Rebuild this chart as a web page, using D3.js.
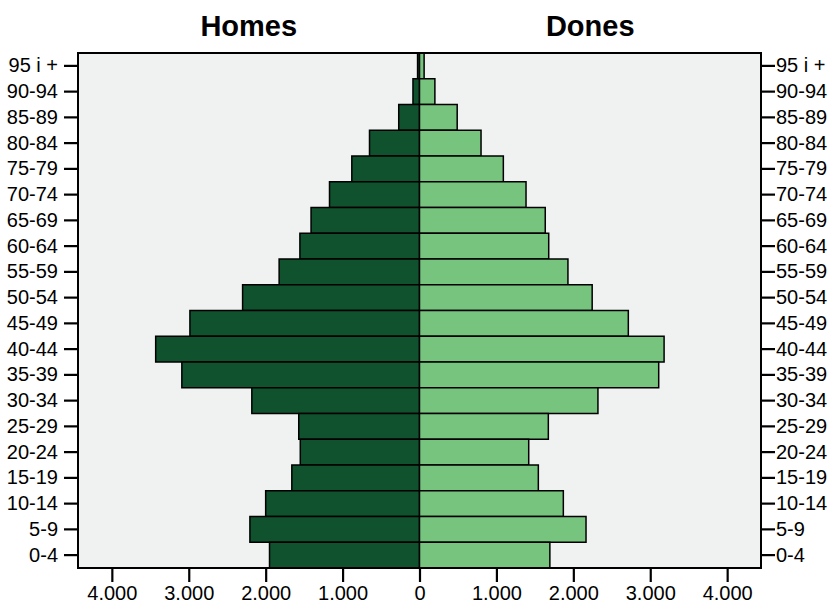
<!DOCTYPE html>
<html>
<head>
<meta charset="utf-8">
<script src="https://cdn.jsdelivr.net/npm/d3@7"></script>
<style>
  body { margin: 0; background: #fff; }
  text { font-family: "Liberation Sans", Arial, sans-serif; }
</style>
</head>
<body>
<div id="chart-area"></div>
<script>
// age groups, top to bottom
const ageGroups = ["95 i +", "90-94", "85-89", "80-84", "75-79", "70-74", "65-69", "60-64",
    "55-59", "50-54", "45-49", "40-44", "35-39", "30-34", "25-29", "20-24",
    "15-19", "10-14", "5-9", "0-4"];
const homes = [25, 85, 270, 650, 880, 1170, 1410, 1555, 1825, 2300, 2985, 3430, 3090, 2180,
    1570, 1550, 1660, 2000, 2205, 1950];
const dones = [60, 200, 490, 800, 1090, 1385, 1635, 1680, 1930, 2245, 2715, 3180, 3110, 2320,
    1675, 1420, 1545, 1870, 2165, 1695];
const xTicks = [-4000, -3000, -2000, -1000, 0, 1000, 2000, 3000, 4000];
const titles = ["Homes", "Dones"];

const margin = { top: 53, right: 67, bottom: 35, left: 78 };
const width = 828 - margin.left - margin.right;
const height = 603 - margin.top - margin.bottom;

const locale = d3.formatLocale({ decimal: ",", thousands: ".", grouping: [3], currency: ["", ""] });
const fmt = locale.format(",");

const svg = d3.select("#chart-area")
    .append("svg")
    .attr("width", 828)
    .attr("height", 603)
    .append("g")
    .attr("transform", `translate(${margin.left}, ${margin.top})`);

const x = d3.scaleLinear().domain([-4440, 4440]).range([0, width]);
const y = d3.scaleBand().domain(ageGroups).range([0, height]).padding(0);

// background
svg.append("rect")
    .attr("width", width)
    .attr("height", height)
    .attr("fill", "#f0f1f1");

// men to the left
svg.selectAll(".bar-homes")
    .data(ageGroups)
    .join("rect")
    .attr("class", "bar-homes")
    .attr("x", (d, i) => x(-homes[i]))
    .attr("y", d => y(d))
    .attr("width", (d, i) => x(0) - x(-homes[i]))
    .attr("height", y.bandwidth())
    .attr("fill", "#10512e")
    .attr("stroke", "#000")
    .attr("stroke-width", 1.5);

// women to the right
svg.selectAll(".bar-dones")
    .data(ageGroups)
    .join("rect")
    .attr("class", "bar-dones")
    .attr("x", x(0))
    .attr("y", d => y(d))
    .attr("width", (d, i) => x(dones[i]) - x(0))
    .attr("height", y.bandwidth())
    .attr("fill", "#77c47f")
    .attr("stroke", "#000")
    .attr("stroke-width", 1.5);

// frame
svg.append("rect")
    .attr("width", width)
    .attr("height", height)
    .attr("fill", "none")
    .attr("stroke", "#000")
    .attr("stroke-width", 2);

function styleAxis(g) {
    g.select(".domain").remove();
    g.selectAll(".tick line").attr("stroke", "#000").attr("stroke-width", 2.2);
    g.selectAll(".tick text").attr("fill", "#000")
        .style("font-size", "20px")
        .style("font-family", "'Liberation Sans', Arial, sans-serif");
}

svg.append("g")
    .call(d3.axisLeft(y).tickSize(14).tickPadding(6))
    .call(styleAxis);

svg.append("g")
    .attr("transform", `translate(${width}, 0)`)
    .call(d3.axisRight(y).tickSize(14).tickPadding(1))
    .call(styleAxis);

svg.append("g")
    .attr("transform", `translate(0, ${height})`)
    .call(d3.axisBottom(x).tickValues(xTicks).tickSize(14).tickPadding(4)
        .tickFormat(d => fmt(Math.abs(d))))
    .call(styleAxis);

// titles over each half
svg.selectAll(".title")
    .data(titles)
    .join("text")
    .attr("class", "title")
    .attr("x", (d, i) => i === 0 ? (x(-4440) + x(0)) / 2 : (x(0) + x(4440)) / 2)
    .attr("y", 36 - margin.top)
    .attr("text-anchor", "middle")
    .style("font-size", "29px")
    .style("font-weight", "bold")
    .text(d => d);
</script>
</body>
</html>
